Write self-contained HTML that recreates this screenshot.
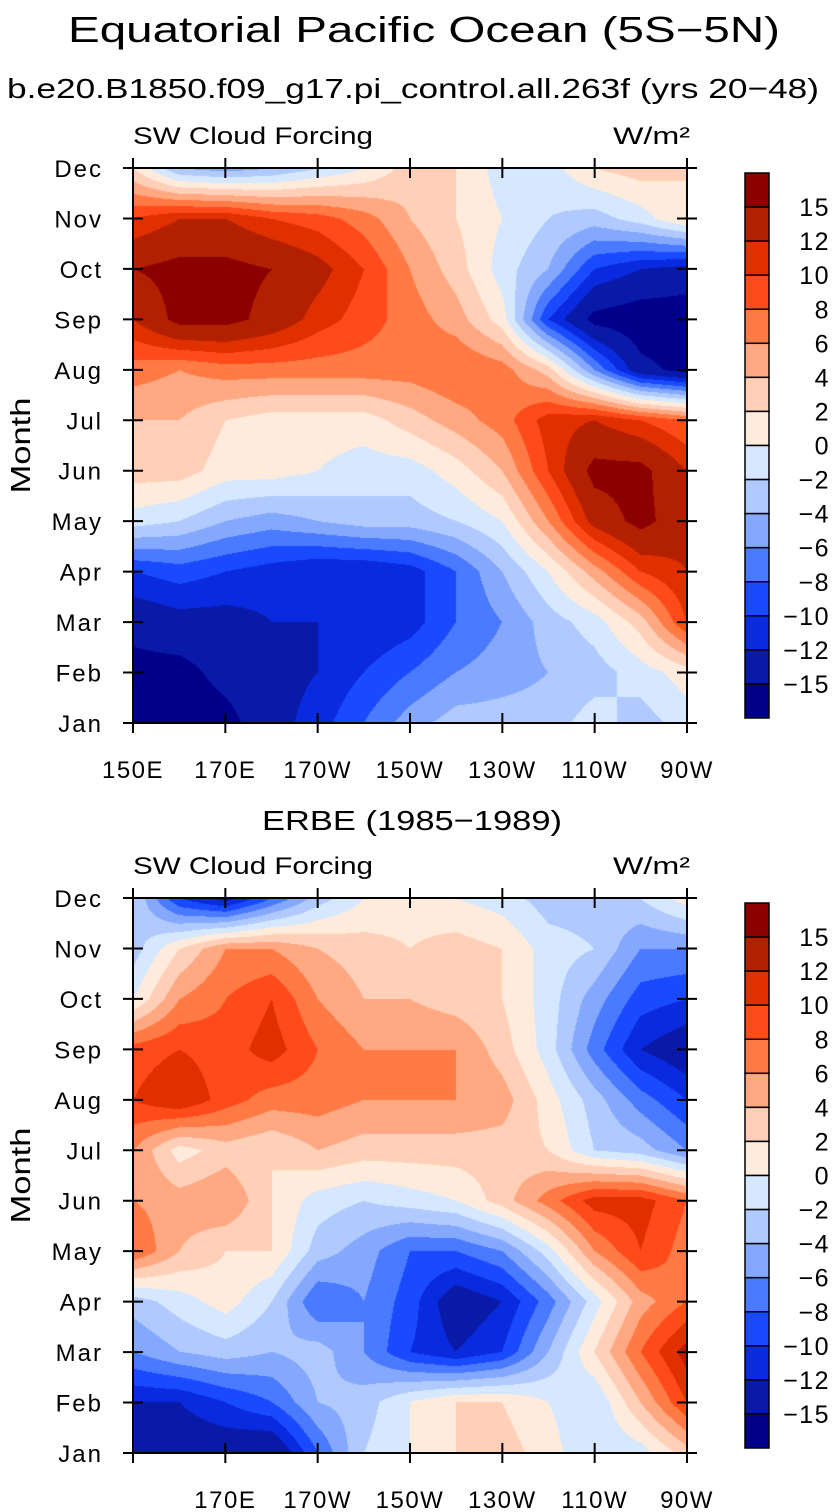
<!DOCTYPE html>
<html><head><meta charset="utf-8"><style>
body{margin:0;background:#fff;width:837px;height:1512px;overflow:hidden;font-family:"Liberation Sans",sans-serif}
svg text{font-family:"Liberation Sans",sans-serif;fill:#000}
canvas{position:absolute}
</style></head><body>
<canvas id="c1" width="554" height="555" style="left:133px;top:168px"></canvas>
<canvas id="c2" width="554" height="555" style="left:133px;top:898px"></canvas>
<svg id="s" width="837" height="1512" style="position:absolute;left:0;top:0">
<text x="424" y="42" font-size="36" text-anchor="middle" textLength="712" lengthAdjust="spacingAndGlyphs">Equatorial Pacific Ocean (5S−5N)</text>
<text x="413" y="98" font-size="28" text-anchor="middle" textLength="812" lengthAdjust="spacingAndGlyphs">b.e20.B1850.f09_g17.pi_control.all.263f (yrs 20−48)</text>
<text x="412" y="830" font-size="28" text-anchor="middle" textLength="300" lengthAdjust="spacingAndGlyphs">ERBE (1985−1989)</text>
</svg>
<script>
const months=["Jan","Feb","Mar","Apr","May","Jun","Jul","Aug","Sep","Oct","Nov","Dec"];
const lons=[150,160,170,180,190,200,210,220,230,240,250,260,270];
const levels=[-15,-12,-10,-8,-6,-4,-2,0,2,4,6,8,10,12,15];
const levelLabels=["15","12","10","8","6","4","2","0","−2","−4","−6","−8","−10","−12","−15"];
const colors=["#00008a","#0a1aa8","#0a2ae0","#1a4aff","#4a7aff","#85a8ff","#b0caff","#d6e8ff","#ffebdc","#ffcfb8","#ffa882","#ff7a45","#ff4a1a","#e03000","#b32000","#8c0000"];
const xTicks1=["150E","170E","170W","150W","130W","110W","90W"];
const xTicks2=["","170E","170W","150W","130W","110W","90W"];
const model=[
[-17,-17,-16,-13,-11,-8,-5,-3,-3,-3,-1,-3,-1],
[-16,-16,-14,-13,-12,-10,-8,-6,-5,-4,-3,-1,1],
[-14,-13,-13,-12,-12,-12,-11,-8,-6,-3,-1,3,10],
[-10,-9,-10,-11,-12,-12,-11,-8,-4,0,5,10,12],
[-1,-2,-4,-5,-4,-3,-3,-2,0,6,13,16,13],
[3,3,1,1,0,-1,-1,1,4,10,16,16,12],
[4,4,2,1,1,1,3,5,7,11,12,10,8],
[7,6,7,7,7,7,7,8,7,3,-6,-14,-16],
[12,16,16,14,11,9,7,5,1,-10,-16,-17,-17],
[15,16,16,15,13,10,6,3,-1,-4,-10,-12,-13],
[10,12,12,10,9,7,4,2,0,-2,-3,-1,2],
[2,-4,-5,-4,-2,0,3,2,-1,-1,2,3,2]];
const erbe=[
[-12,-14,-14,-15,-8,-2,0,2,3,1,-2,-1,3],
[-12,-12,-10,-8,-4,-3,0,2,2,0,-2,4,10],
[-6,-4,-3,-4,-3,-6,-10,-12,-10,-4,2,8,13],
[-3,-1,1,-2,-8,-6,-9,-14,-12,-7,-1,5,8],
[8,4,2,2,-3,-5,-8,-8,-6,-1,6,10,7],
[6,5,6,2,-1,-2,-1,0,3,7,11,11,8],
[6,1,3,2,4,3,3,3,3,2,-2,-3,-6],
[10,12,9,7,7,6,6,6,5,1,-3,-7,-10],
[9,10,9,11,8,6,6,6,3,-1,-7,-12,-14],
[0,6,8,10,6,4,4,3,2,-1,-5,-9,-10],
[-3,2,6,6,4,3,2,3,2,-1,-2,-6,-6],
[-2,-10,-13,-8,-3,0,1,0,-1,-3,-3,-2,1]];
const X0=133,X1=687,W=X1-X0;
function xs(lon){return X0+(lon-150)/120*W;}
function hex(c){return [parseInt(c.slice(1,3),16),parseInt(c.slice(3,5),16),parseInt(c.slice(5,7),16)];}
const rgb=colors.map(hex);
function bin(v){let i=0;while(i<levels.length&&v>=levels[i])i++;return i;}
function draw(id,data){
 const cv=document.getElementById(id),ctx=cv.getContext('2d'),w=cv.width,h=cv.height;
 const img=ctx.createImageData(w,h);
 for(let py=0;py<h;py++){
  const m=(h-1-py)/(h-1)*(months.length-1);const r0=Math.min(Math.floor(m),months.length-2),fy=m-r0;
  for(let px=0;px<w;px++){
   const l=px/(w-1)*(lons.length-1);const c0=Math.min(Math.floor(l),lons.length-2),fx=l-c0;
   const v=(data[r0][c0]*(1-fx)+data[r0][c0+1]*fx)*(1-fy)+(data[r0+1][c0]*(1-fx)+data[r0+1][c0+1]*fx)*fy;
   const col=rgb[bin(v)],k=(py*w+px)*4;
   img.data[k]=col[0];img.data[k+1]=col[1];img.data[k+2]=col[2];img.data[k+3]=255;
  }}
 ctx.putImageData(img,0,0);
}
draw('c1',model);draw('c2',erbe);
const s=document.getElementById('s'),NS="http://www.w3.org/2000/svg";
function el(t,a,txt){const e=document.createElementNS(NS,t);for(const k in a)e.setAttribute(k,a[k]);if(txt!==undefined)e.textContent=txt;s.appendChild(e);return e;}
function panel(Y0,ticks,tag){
 const Y1=Y0+555,ys=i=>Y1-i*(555/11);
 const fr=el('rect',{x:X0,y:Y0,width:W,height:555,fill:'none',stroke:'#000','stroke-width':2});
 
 
 months.forEach((m,i)=>{const y=ys(i);
  el('line',{x1:X0-10,x2:X0+10,y1:y,y2:y,stroke:'#000','stroke-width':2});
  el('line',{x1:X1-10,x2:X1+10,y1:y,y2:y,stroke:'#000','stroke-width':2});
  const t=el('text',{x:103,y:y+9,'font-size':24,'letter-spacing':2,'text-anchor':'end'},m);
  
  });
 ticks.forEach((lb,i)=>{const x=xs(150+i*20);
  el('line',{x1:x,x2:x,y1:Y1-10,y2:Y1+10,stroke:'#000','stroke-width':2});
  el('line',{x1:x,x2:x,y1:Y0-10,y2:Y0+10,stroke:'#000','stroke-width':2});
  if(lb){const t=el('text',{x:x,y:Y1+55,'font-size':24,'text-anchor':'middle','letter-spacing':1.5},lb);
  
  }});
 const yt=el('text',{x:30,y:(Y0+Y1)/2,'font-size':28,'text-anchor':'middle',transform:`rotate(-90 30 ${(Y0+Y1)/2})`,textLength:96,lengthAdjust:'spacingAndGlyphs'},'Month');
 
 
 const lt=el('text',{x:X0,y:Y0-24,'font-size':24,textLength:240,lengthAdjust:'spacingAndGlyphs'},'SW Cloud Forcing');
 
 
 const ut=el('text',{x:613,y:Y0-24,'font-size':24,textLength:77,lengthAdjust:'spacingAndGlyphs'},'W/m²');
 
 
 const cb0=Y0+5,bh=545/colors.length;
 for(let i=0;i<colors.length;i++){
  const r=el('rect',{x:745,y:cb0+i*bh,width:24,height:bh,fill:colors[colors.length-1-i],stroke:'#000','stroke-width':1.5});
  
  }
 levelLabels.forEach((lb,i)=>{const t=el('text',{x:830,y:cb0+(i+1)*bh+9,'font-size':25,'text-anchor':'end','letter-spacing':1.5},lb);
  
  });
}
panel(168,xTicks1,'model');
panel(898,xTicks2,'erbe');
</script>
</body></html>
